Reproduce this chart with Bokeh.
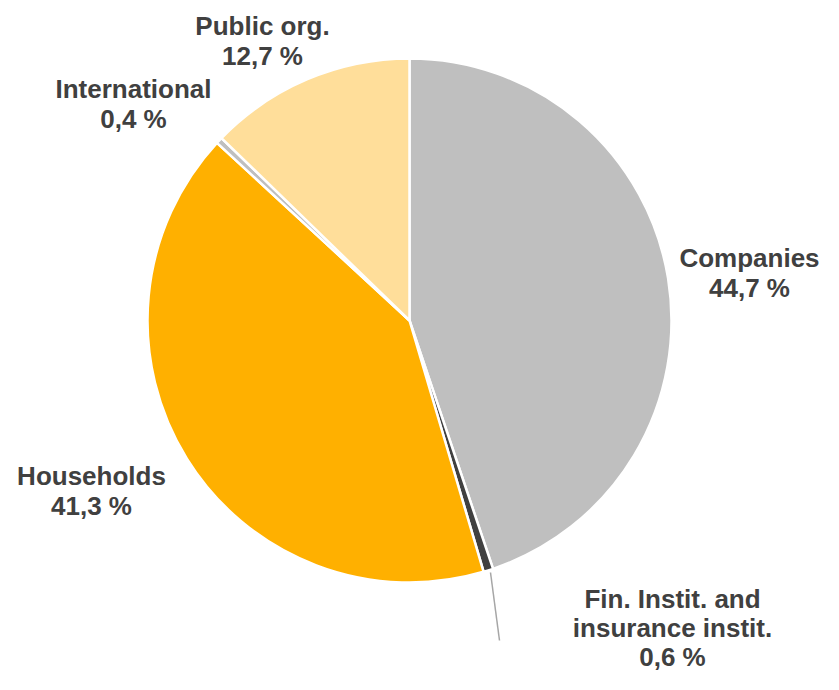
import math
from bokeh.plotting import figure
from bokeh.models import ColumnDataSource, Range1d
from bokeh.core.properties import value
from bokeh.embed import file_html
from bokeh.resources import INLINE

# ---- data ----
categories = ["Companies", "Fin. Instit. and\ninsurance instit.", "Households", "International", "Public org."]
shares = [44.7, 0.6, 41.3, 0.4, 12.7]
share_labels = ["44,7 %", "0,6 %", "41,3 %", "0,4 %", "12,7 %"]
colors = ["#BFBFBF", "#404040", "#FFB000", "#BFBFBF", "#FFDE9A"]

# ---- layout (picture pixels, origin top-left) ----
W, H = 823, 674
def px(xp, yp):
    return xp, H - yp

cx, cy = px(409, 320)
R = 262
label_anchor = [(749, 257), (672, 598), (91, 475), (133, 88), (262, 25)]
line_gaps = [30.5, 29.0, 30.5, 30.5, 30.5]

p = figure(width=W, height=H, output_backend="svg", toolbar_location=None,
           x_range=Range1d(0, W), y_range=Range1d(0, H), min_border=0)
p.axis.visible = False
p.grid.visible = False
p.outline_line_color = None
p.background_fill_color = "white"
p.border_fill_color = "white"

total = sum(shares)
starts, ends = [], []
acc = 0.0
for v in shares:
    starts.append(math.pi / 2 - acc / total * 2 * math.pi)
    acc += v
    ends.append(math.pi / 2 - acc / total * 2 * math.pi)

src = ColumnDataSource(dict(start=starts, end=ends, color=colors, cat=categories))
p.wedge(x=cx, y=cy, radius=R, start_angle="start", end_angle="end", direction="clock",
        fill_color="color", line_color="white", line_width=2.5, source=src)

# leader line for small slice
lx0, ly0 = px(490, 572)
lx1, ly1 = px(499, 640)
p.line([lx0, lx1], [ly0, ly1], line_color="#A6A6A6", line_width=1.5)

# labels
tx, ty, tt = [], [], []
for cat, lab, (ax, ay), g in zip(categories, share_labels, label_anchor, line_gaps):
    lines = cat.split("\n") + [lab]
    for i, t in enumerate(lines):
        x, y = px(ax, ay + i * g)
        tx.append(x); ty.append(y); tt.append(t)

p.text(x=tx, y=ty, text=tt, text_align="center", text_baseline="middle",
       text_font=value("Liberation Sans"), text_font_style="bold",
       text_font_size="26px", text_color="#404040")

open("out.html", "w").write(file_html(p, INLINE))
